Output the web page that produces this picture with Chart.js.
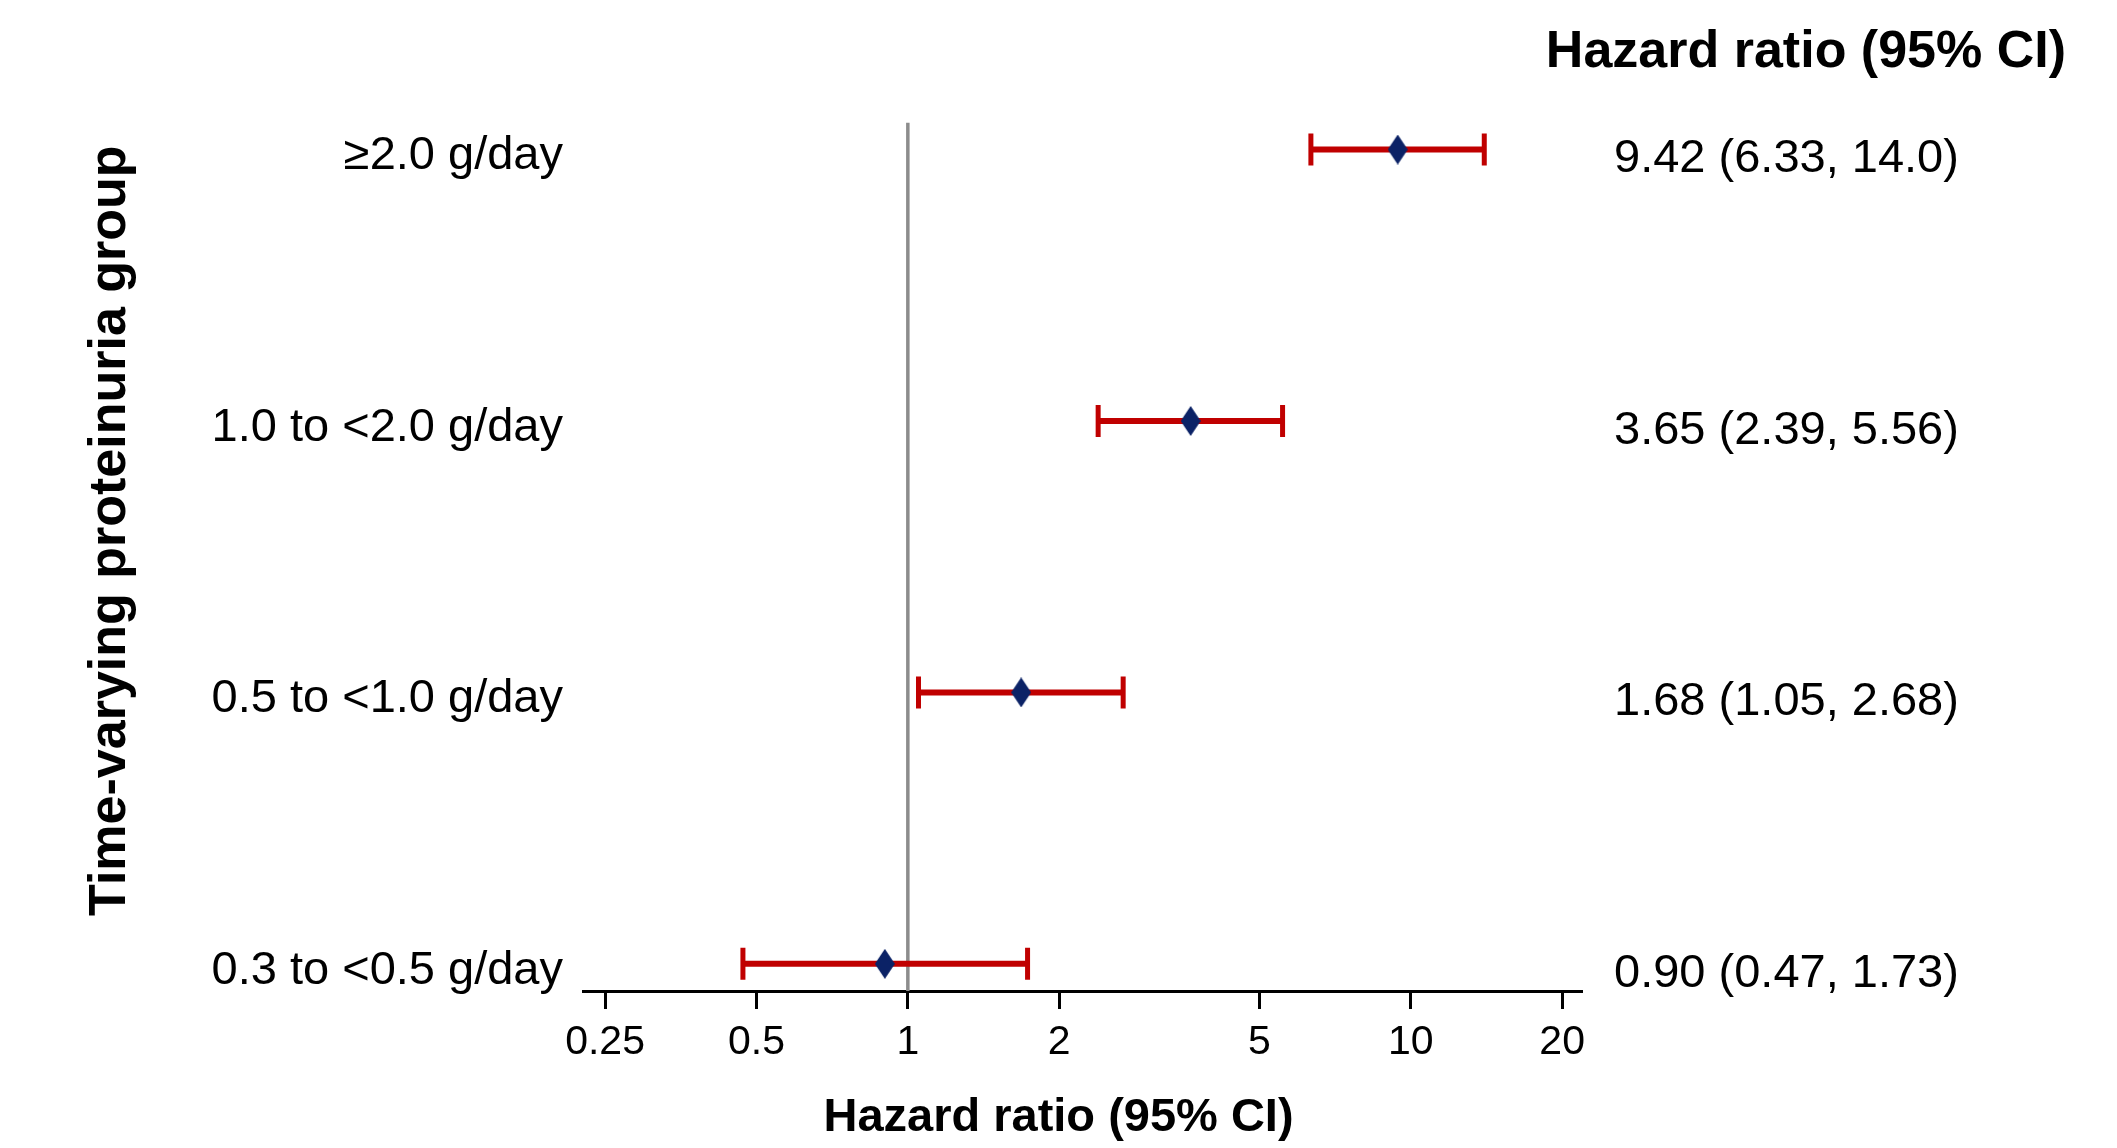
<!DOCTYPE html>
<html>
<head>
<meta charset="utf-8">
<script src="https://cdn.jsdelivr.net/npm/chart.js@4.4.1/dist/chart.umd.min.js"></script>
<style>
  body { margin: 0; background: #fff; }
  canvas { display: block; }
</style>
</head>
<body>
<canvas id="forest" width="2117" height="1148"></canvas>
<script>
// proteinuria groups, top to bottom
const groups = ['\u22652.0 g/day', '1.0 to <2.0 g/day', '0.5 to <1.0 g/day', '0.3 to <0.5 g/day'];
const hazardRatio = [9.42, 3.65, 1.68, 0.90];
const lowerCI = [6.33, 2.39, 1.05, 0.47];
const upperCI = [14.0, 5.56, 2.68, 1.73];
const xTicks = [0.25, 0.5, 1, 2, 5, 10, 20];
const nullValue = 1;

const FONT = "'Liberation Sans', Arial, sans-serif";
const RED = '#c00000';
const NAVY = '#0b2266';
const yMin = 0.9, yMax = 4.1;

// row i sits at y = n - i so the first group is on top
const rowY = i => groups.length - i;
const fmt = v => v >= 10 ? v.toFixed(1) : v.toFixed(2);
const ciText = groups.map((g, i) => fmt(hazardRatio[i]) + ' (' + fmt(lowerCI[i]) + ', ' + fmt(upperCI[i]) + ')');

// tall diamond marker
const diamond = document.createElement('canvas');
diamond.width = 20; diamond.height = 30;
const dctx = diamond.getContext('2d');
dctx.fillStyle = NAVY;
dctx.beginPath();
dctx.moveTo(10, 0); dctx.lineTo(20, 15); dctx.lineTo(10, 30); dctx.lineTo(0, 15);
dctx.closePath();
dctx.fill();

const errorSets = groups.map((g, i) => ({
  label: g,
  data: [{x: lowerCI[i], y: rowY(i)}, {x: upperCI[i], y: rowY(i)}],
  showLine: true,
  borderColor: RED,
  borderWidth: 6,
  pointStyle: 'line',
  rotation: 90,
  pointRadius: 16,
  pointBorderWidth: 5,
  pointBorderColor: RED,
  order: 2
}));

// rotated y title and x title centred on the canvas, as in the original
const axisTitles = {
  id: 'axisTitles',
  afterDraw(chart) {
    const {ctx, chartArea, width, height} = chart;
    ctx.save();
    ctx.fillStyle = '#000';
    ctx.textAlign = 'center';
    ctx.textBaseline = 'middle';
    ctx.font = 'bold 47px ' + FONT;
    ctx.fillText('Hazard ratio (95% CI)', width / 2, height - 30);
    ctx.translate(chartArea.left - 472, (chartArea.top + chartArea.bottom) / 2 - 26);
    ctx.rotate(-Math.PI / 2);
    ctx.font = 'bold 52px ' + FONT;
    ctx.fillText('Time-varying proteinuria group', 0, 0);
    ctx.restore();
  }
};

new Chart(document.getElementById('forest'), {
  type: 'scatter',
  data: {
    datasets: [
      {
        label: 'HR',
        data: hazardRatio.map((v, i) => ({x: v, y: rowY(i)})),
        pointStyle: diamond,
        pointRadius: 10,
        order: 1
      },
      ...errorSets,
      {
        label: 'null',
        data: [{x: nullValue, y: yMin}, {x: nullValue, y: yMax}],
        showLine: true,
        borderColor: '#8c8c8c',
        borderWidth: 3.5,
        pointRadius: 0,
        order: 3
      }
    ]
  },
  options: {
    responsive: false,
    animation: false,
    layout: { padding: { left: 0, right: 51, top: 0, bottom: 0 } },
    plugins: {
      legend: { display: false },
      tooltip: { enabled: false },
      title: {
        display: true,
        text: 'Hazard ratio (95% CI)',
        align: 'end',
        color: '#000',
        font: { family: FONT, size: 52, weight: 'bold', lineHeight: 1.2 },
        padding: { top: 21, bottom: 39 }
      }
    },
    scales: {
      x: {
        type: 'logarithmic',
        min: 0.226,
        max: 21.8,
        afterBuildTicks: s => { s.ticks = xTicks.map(v => ({value: v})); },
        afterFit: s => { s.height = 157; },
        ticks: {
          color: '#000',
          padding: 9,
          autoSkip: false,
          maxRotation: 0,
          font: { family: FONT, size: 41 },
          callback: v => String(v)
        },
        grid: { drawOnChartArea: false, color: '#000', lineWidth: 3, tickLength: 18 },
        border: { display: true, color: '#000', width: 3 }
      },
      y: {
        type: 'linear',
        position: 'left',
        min: yMin,
        max: yMax,
        afterBuildTicks: s => { s.ticks = groups.map((g, i) => ({value: rowY(i)})); },
        afterFit: s => { s.width = 583; },
        ticks: {
          color: '#000',
          padding: 20,
          labelOffset: 7,
          autoSkip: false,
          font: { family: FONT, size: 47 },
          callback: v => groups[groups.length - v]
        },
        grid: { display: false, drawTicks: false },
        border: { display: false }
      },
      y2: {
        type: 'linear',
        position: 'right',
        min: yMin,
        max: yMax,
        afterBuildTicks: s => { s.ticks = groups.map((g, i) => ({value: rowY(i)})); },
        afterFit: s => { s.width = 485; },
        ticks: {
          color: '#000',
          padding: 33,
          labelOffset: 10,
          autoSkip: false,
          font: { family: FONT, size: 47 },
          callback: v => ciText[groups.length - v]
        },
        grid: { display: false, drawTicks: false },
        border: { display: false }
      }
    }
  },
  plugins: [axisTitles]
});
</script>
</body>
</html>
